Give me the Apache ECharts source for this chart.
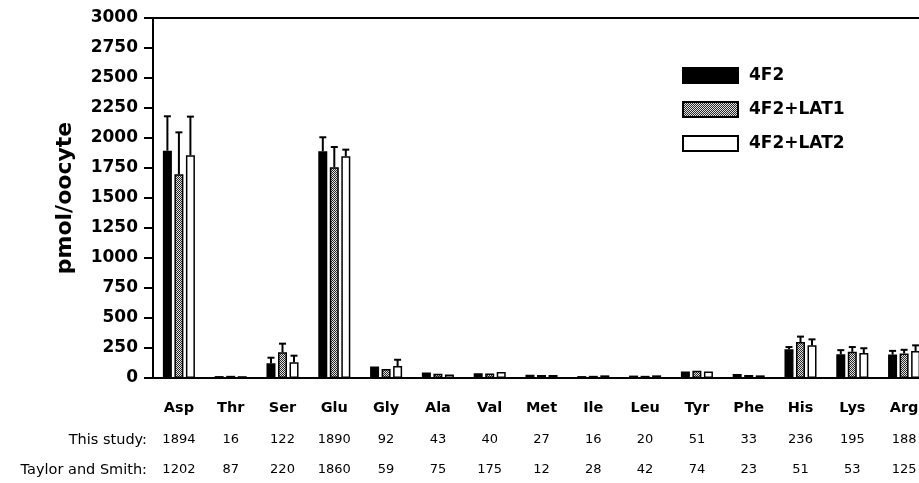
<!DOCTYPE html>
<html><head><meta charset="utf-8">
<script src="https://cdn.jsdelivr.net/npm/echarts@6/dist/echarts.min.js"></script>
<style>html,body{margin:0;padding:0;background:#fff;overflow:hidden}#c{width:930px;height:483px}</style>
</head><body><div id="c"></div>
<script>
const categories = ['Asp','Thr','Ser','Glu','Gly','Ala','Val','Met','Ile','Leu','Tyr','Phe','His','Lys','Arg'];
const seriesNames = ['4F2','4F2+LAT1','4F2+LAT2'];
const v4F2     = [1894, 16, 122, 1890, 95, 45, 40, 27, 16, 20, 55, 33, 240, 198, 195];
const v4F2LAT1 = [1697, 18, 214, 1756, 75, 35, 38, 25, 18, 18, 60, 25, 300, 218, 205];
const v4F2LAT2 = [1856, 15, 131, 1847, 100, 30, 50, 25, 22, 22, 55, 22, 272, 208, 225];
const e4F2     = [2181, 16, 169, 2006, 95, 45, 40, 27, 16, 20, 55, 33, 258, 232, 226];
const e4F2LAT1 = [2047, 18, 286, 1925, 75, 35, 38, 25, 18, 18, 60, 25, 345, 258, 235];
const e4F2LAT2 = [2178, 15, 186, 1903, 152, 30, 50, 25, 22, 22, 55, 22, 322, 248, 272];
const yTicks = [0, 250, 500, 750, 1000, 1250, 1500, 1750, 2000, 2250, 2500, 2750, 3000];
const thisStudy = ['1894','16','122','1890','92','43','40','27','16','20','51','33','236','195','188'];
const taylorSmith = ['1202','87','220','1860','59','75','175','12','28','42','74','23','51','53','125'];

const FONT = '"DejaVu Sans", "Liberation Sans", Arial, sans-serif';
const pc = document.createElement('canvas');
pc.width = 2; pc.height = 2;
const pctx = pc.getContext('2d');
pctx.fillStyle = '#e0e0e0'; pctx.fillRect(0,0,2,2);
pctx.fillStyle = '#2a2a2a'; pctx.fillRect(0,0,1,1); pctx.fillRect(1,1,1,1);

const BAR_W = 9, STEP = 11.5;
const fills = ['#000', {image: pc, repeat: 'repeat'}, '#fff'];
const values = [v4F2, v4F2LAT1, v4F2LAT2];
const errs = [e4F2, e4F2LAT1, e4F2LAT2];

const series = [];
seriesNames.forEach((n, k) => {
  series.push({
    name: n, type: 'bar', data: values[k], barWidth: BAR_W, barGap: '28%',
    itemStyle: {color: fills[k], borderColor: '#000', borderWidth: 1.5},
    z: 3
  });
});
seriesNames.forEach((n, k) => {
  series.push({
    name: n + ' err', type: 'custom', z: 4,
    data: categories.map((c, i) => [i, values[k][i], errs[k][i]]),
    renderItem: function (params, api) {
      const i = api.value(0);
      const p0 = api.coord([i, api.value(1)]);
      const p1 = api.coord([i, api.value(2)]);
      if (p0[1] - p1[1] < 1) return null;
      const x = p0[0] + (k - 1) * STEP;
      return {type: 'group', children: [
        {type: 'line', shape: {x1: x, y1: p0[1], x2: x, y2: p1[1]}, style: {stroke: '#000', lineWidth: 2}},
        {type: 'line', shape: {x1: x - 3.5, y1: p1[1], x2: x + 3.5, y2: p1[1]}, style: {stroke: '#000', lineWidth: 2}}
      ]};
    }
  });
});

const chart = echarts.init(document.getElementById('c'));
chart.setOption({
  animation: false,
  backgroundColor: '#fff',
  grid: {left: 153, top: 18, right: 0, bottom: 105, show: true, borderColor: '#000', borderWidth: 2, containLabel: false},
  legend: {
    data: seriesNames, orient: 'vertical', left: 677, top: 62, itemWidth: 55, itemHeight: 15, itemGap: 17,
    icon: 'rect',
    textStyle: {fontFamily: FONT, fontWeight: 'bold', fontSize: 17, color: '#000', padding: [0,0,0,6]},
    selectedMode: false
  },
  xAxis: [
    {type: 'category', data: categories, position: 'bottom',
     axisLine: {lineStyle: {color: '#000', width: 2}}, axisTick: {show: false},
     axisLabel: {fontFamily: FONT, fontWeight: 'bold', fontSize: 14.5, color: '#000', margin: 23}},
    {type: 'category', data: thisStudy, position: 'bottom', offset: 55,
     axisLine: {show: false}, axisTick: {show: false},
     name: 'This study:', nameLocation: 'start', nameGap: 6,
     nameTextStyle: {fontFamily: FONT, fontSize: 14.5, color: '#000', verticalAlign: 'top', align: 'right'},
     axisLabel: {fontFamily: FONT, fontSize: 13, color: '#000', margin: 0}},
    {type: 'category', data: taylorSmith, position: 'bottom', offset: 85,
     axisLine: {show: false}, axisTick: {show: false},
     name: 'Taylor and Smith:', nameLocation: 'start', nameGap: 6,
     nameTextStyle: {fontFamily: FONT, fontSize: 14.5, color: '#000', verticalAlign: 'top', align: 'right'},
     axisLabel: {fontFamily: FONT, fontSize: 13, color: '#000', margin: 0}}
  ],
  yAxis: {
    type: 'value', min: yTicks[0], max: yTicks[yTicks.length-1], interval: yTicks[1] - yTicks[0],
    name: 'pmol/oocyte', nameLocation: 'middle', nameGap: 77,
    nameTextStyle: {fontFamily: FONT, fontWeight: 'bold', fontSize: 22, color: '#000'},
    axisLine: {show: true, lineStyle: {color: '#000', width: 2}},
    axisTick: {show: true, length: 9, lineStyle: {color: '#000', width: 2}},
    splitLine: {show: false},
    axisLabel: {fontFamily: FONT, fontWeight: 'bold', fontSize: 17, color: '#000', margin: 15,
                formatter: v => String(v)}
  },
  series: series
});
</script></body></html>
